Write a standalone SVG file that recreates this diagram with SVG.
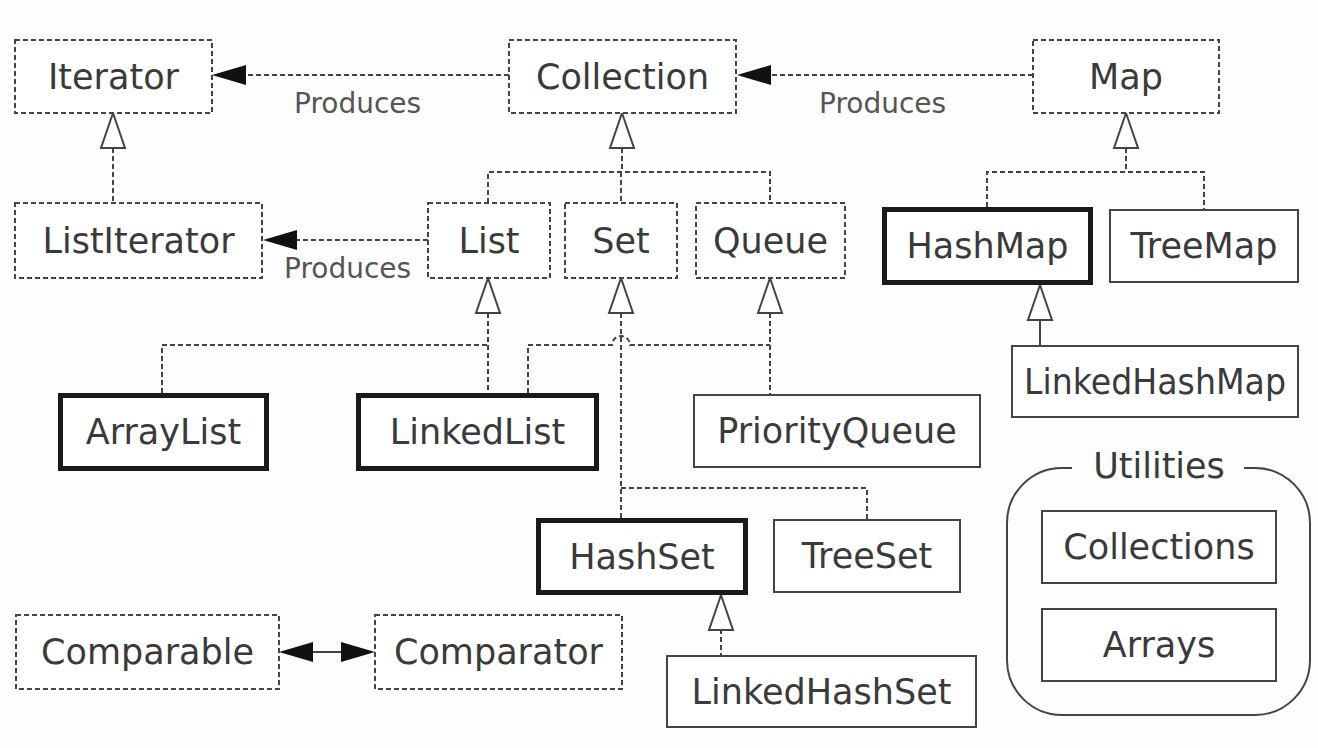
<svg xmlns="http://www.w3.org/2000/svg" xmlns:xlink="http://www.w3.org/1999/xlink" width="1318" height="748" viewBox="0 0 1318 748">
<style>
.bg{fill:#fdfdfd}
.d{fill:#fff;stroke:#444;stroke-width:2;stroke-dasharray:5 3}
.s{fill:#fff;stroke:#444;stroke-width:2}
.k{fill:#fff;stroke:#1a1a1a;stroke-width:5}
.t{font-family:"DejaVu Sans","Verdana",sans-serif;font-size:35px;fill:#3a3a3a;text-anchor:middle}
.p{font-family:"DejaVu Sans","Verdana",sans-serif;font-size:28px;fill:#555;text-anchor:start}
.dl{fill:none;stroke:#444;stroke-width:2;stroke-dasharray:5 3}
.sl{fill:none;stroke:#444;stroke-width:2}
.tri{fill:#fff;stroke:#444;stroke-width:2;stroke-linejoin:miter}
.ah{fill:#111;stroke:none}
</style>
<defs>
<path id="tri" d="M0,0 L12,35 L-12,35 Z"/>
<path id="ah" d="M0,0 L34,-10 L34,10 Z"/>
</defs>
<rect class="bg" x="0" y="0" width="1318" height="748"/>
<g id="connectors">
<path class="dl" d="M509,75 H247"/>
<use href="#ah" class="ah" x="212" y="75"/>
<path class="dl" d="M1033,75 H772"/>
<use href="#ah" class="ah" x="737" y="75"/>
<path class="dl" d="M428,240 H297"/>
<use href="#ah" class="ah" x="263" y="240"/>
<path class="dl" d="M113,148 V203"/>
<use href="#tri" class="tri" x="113" y="113"/>
<path class="dl" d="M622,148 V172 M488,203 V172 H770 V203 M621,172 V203"/>
<use href="#tri" class="tri" x="622" y="113"/>
<path class="dl" d="M1126,148 V172 M987,207 V172 H1204 V209"/>
<use href="#tri" class="tri" x="1126" y="113"/>
<path class="sl" d="M1040,320 V345"/>
<use href="#tri" class="tri" x="1040" y="285"/>
<path class="dl" d="M488,313 V393 M162,393 V345 H488"/>
<use href="#tri" class="tri" x="488" y="278"/>
<path class="dl" d="M621,313 V518 M621,488 H867 V519"/>
<use href="#tri" class="tri" x="621" y="278"/>
<path class="dl" d="M770,313 V394"/>
<use href="#tri" class="tri" x="770" y="278"/>
<path class="dl" d="M528,393 V345 H612 A9,9 0 0 1 630,345 H770"/>
<path class="dl" d="M721,629 V655"/>
<use href="#tri" class="tri" x="721" y="595"/>
<path class="sl" d="M312,652 H343"/>
<use href="#ah" class="ah" x="279" y="652"/>
<use href="#ah" class="ah" transform="translate(375,652) scale(-1,1)"/>
<text class="p" x="294" y="113">Produces</text>
<text class="p" x="819" y="113">Produces</text>
<text class="p" x="284" y="278">Produces</text>
</g>
<g id="Iterator"><rect class="d" x="15" y="40" width="197" height="73"/><text class="t" x="113.5" y="89">Iterator</text></g>
<g id="Collection"><rect class="d" x="509" y="40" width="227" height="73"/><text class="t" x="622.5" y="89">Collection</text></g>
<g id="Map"><rect class="d" x="1033" y="40" width="186" height="73"/><text class="t" x="1126" y="89">Map</text></g>
<g id="ListIterator"><rect class="d" x="15" y="203" width="247" height="75"/><text class="t" x="138.5" y="253">ListIterator</text></g>
<g id="List"><rect class="d" x="428" y="203" width="122" height="75"/><text class="t" x="489" y="253">List</text></g>
<g id="Set"><rect class="d" x="565" y="203" width="112" height="75"/><text class="t" x="621" y="253">Set</text></g>
<g id="Queue"><rect class="d" x="696" y="203" width="149" height="75"/><text class="t" x="770.5" y="253">Queue</text></g>
<g id="HashMap"><rect class="k" x="884.5" y="209.5" width="206" height="73"/><text class="t" x="987.5" y="258">HashMap</text></g>
<g id="TreeMap"><rect class="s" x="1110" y="210" width="188" height="72"/><text class="t" x="1204" y="258">TreeMap</text></g>
<g id="LinkedHashMap"><rect class="s" x="1012" y="346" width="286" height="71"/><text class="t" x="1155" y="394" textLength="262" lengthAdjust="spacingAndGlyphs">LinkedHashMap</text></g>
<g id="ArrayList"><rect class="k" x="60.5" y="395.5" width="206" height="73"/><text class="t" x="163.5" y="444">ArrayList</text></g>
<g id="LinkedList"><rect class="k" x="358.5" y="395.5" width="238" height="73"/><text class="t" x="477.5" y="444">LinkedList</text></g>
<g id="PriorityQueue"><rect class="s" x="694" y="395" width="286" height="72"/><text class="t" x="837" y="443">PriorityQueue</text></g>
<g id="HashSet"><rect class="k" x="538.5" y="520.5" width="207" height="72"/><text class="t" x="642" y="569">HashSet</text></g>
<g id="TreeSet"><rect class="s" x="774" y="520" width="186" height="72"/><text class="t" x="867" y="568">TreeSet</text></g>
<g id="LinkedHashSet"><rect class="s" x="667" y="656" width="309" height="71"/><text class="t" x="821.5" y="704">LinkedHashSet</text></g>
<g id="Comparable"><rect class="d" x="16" y="615" width="263" height="74"/><text class="t" x="147.5" y="664">Comparable</text></g>
<g id="Comparator"><rect class="d" x="375" y="615" width="247" height="74"/><text class="t" x="498.5" y="664">Comparator</text></g>
<g id="Utilities">
<path class="sl" d="M1244,468 H1255 A55,55 0 0 1 1310,523 V660 A55,55 0 0 1 1255,715 H1062 A55,55 0 0 1 1007,660 V523 A55,55 0 0 1 1062,468 H1072"/>
<text class="t" x="1159" y="478">Utilities</text>
</g>
<g id="Collections"><rect class="s" x="1042" y="511" width="234" height="72"/><text class="t" x="1159" y="559">Collections</text></g>
<g id="Arrays"><rect class="s" x="1042" y="609" width="234" height="72"/><text class="t" x="1159" y="657">Arrays</text></g>
</svg>
